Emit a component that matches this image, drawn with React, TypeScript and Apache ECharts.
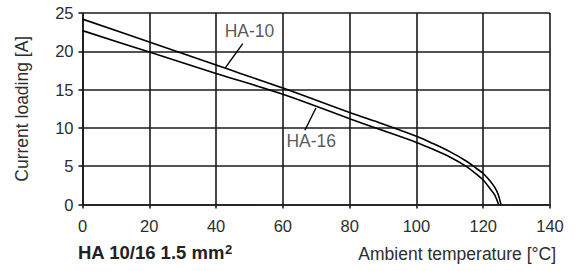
import React, { useEffect, useRef } from "react";
import * as echarts from "echarts";

const xTicks = [0, 20, 40, 60, 80, 100, 120, 140];
const yTicks = [0, 5, 10, 15, 20, 25];

const ha10: [number, number][] = [
  [0, 24.2], [20, 21.2], [40, 18.2], [60, 15.2], [80, 12.0], [90, 10.5],
  [100, 8.9], [105, 7.95], [110, 6.9], [115, 5.65], [118, 4.7], [120, 4.05],
  [122, 3.1], [123.5, 2.2], [124.5, 1.3], [125.3, 0],
];
const ha16: [number, number][] = [
  [0, 22.7], [20, 19.9], [40, 17.1], [60, 14.4], [80, 11.2], [90, 9.65],
  [100, 8.1], [105, 7.2], [110, 6.2], [115, 4.95], [118, 3.95], [120, 3.2],
  [122, 2.1], [123.5, 1.2], [124.6, 0],
];

const leaderHA10: [number, number][] = [[48.0, 21.0], [42.7, 17.8]];
const leaderHA16: [number, number][] = [[69.9, 12.6], [66.6, 9.7]];
const curveLabels: [number, number, string][] = [
  [50.0, 22.6, "HA-10"],
  [68.5, 8.3, "HA-16"],
];

const xTitle = "Ambient temperature [°C]";
const yTitle = "Current loading [A]";
const chartTitleMain = "HA 10/16 1.5 mm";
const chartTitleSup = "2";

const FONT = "'Liberation Sans', Arial, Helvetica, sans-serif";
const INK = "#1a1a1a";
const TXT = "#2d2d2d";

export default function App() {
  const ref = useRef<HTMLDivElement>(null);
  useEffect(() => {
    if (!ref.current) return;
    const chart = echarts.init(ref.current, undefined, { renderer: "svg" });
    const lineSeries = (name: string, data: [number, number][], w: number, smooth: number) => ({
      name,
      type: "line",
      data,
      showSymbol: false,
      symbol: "none",
      smooth,
      lineStyle: { color: "#000", width: w },
      silent: true,
      z: 5,
    });
    chart.setOption({
      animation: false,
      backgroundColor: "#fff",
      grid: { left: 82.5, right: 25, top: 13, bottom: 66.5 },
      xAxis: {
        type: "value",
        min: 0,
        max: 140,
        interval: 20,
        axisLine: { show: true, lineStyle: { color: INK, width: 1.6 } },
        axisTick: { show: true, inside: false, length: 4, lineStyle: { color: INK, width: 1.6 } },
        splitLine: { show: true, lineStyle: { color: INK, width: 1.6 } },
        axisLabel: {
          margin: 13,
          fontSize: 16.5,
          fontFamily: FONT,
          color: TXT,
          formatter: (v: number) => (xTicks.includes(v) ? String(v) : ""),
        },
      },
      yAxis: {
        type: "value",
        min: 0,
        max: 25,
        interval: 5,
        name: yTitle,
        nameLocation: "middle",
        nameGap: 52,
        nameTextStyle: { fontSize: 17.5, fontFamily: FONT, color: TXT },
        axisLine: { show: true, lineStyle: { color: INK, width: 1.6 } },
        axisTick: { show: true, inside: false, length: 4, lineStyle: { color: INK, width: 1.6 } },
        splitLine: { show: true, lineStyle: { color: INK, width: 1.6 } },
        axisLabel: {
          margin: 9,
          fontSize: 16.5,
          fontFamily: FONT,
          color: TXT,
          formatter: (v: number) => (yTicks.includes(v) ? String(v) : ""),
        },
      },
      series: [
        lineSeries("HA-10", ha10, 1.6, 0.35),
        lineSeries("HA-16", ha16, 1.6, 0.35),
        lineSeries("HA-10 leader", leaderHA10, 1.4, 0),
        lineSeries("HA-16 leader", leaderHA16, 1.4, 0),
        {
          name: "labels",
          type: "scatter",
          symbolSize: 0,
          silent: true,
          data: curveLabels.map((d) => ({ value: [d[0], d[1]], name: d[2] })),
          label: {
            show: true,
            position: "inside",
            formatter: (p: any) => p.name,
            fontSize: 17.5,
            fontFamily: FONT,
            color: TXT,
            backgroundColor: "#fff",
            padding: [0, 1],
          },
          z: 10,
        },
      ],
      graphic: [
        {
          type: "text",
          right: 19,
          top: 245,
          style: { text: xTitle, fontSize: 17.5, fontFamily: FONT, fill: TXT },
        },
        {
          type: "text",
          left: 78,
          top: 243,
          style: {
            text: `{a|${chartTitleMain}}{s|${chartTitleSup}}`,
            fill: "#222",
            rich: {
              a: { fontSize: 18.5, fontWeight: "bold", fontFamily: FONT, fill: "#222" },
              s: { fontSize: 13, fontWeight: "bold", fontFamily: FONT, fill: "#222", verticalAlign: "top" },
            },
          },
        },
      ],
    });
    return () => chart.dispose();
  }, []);
  return (
    <div
      ref={ref}
      style={{ position: "fixed", left: 0, top: 0, width: 575, height: 271 }}
    />
  );
}
